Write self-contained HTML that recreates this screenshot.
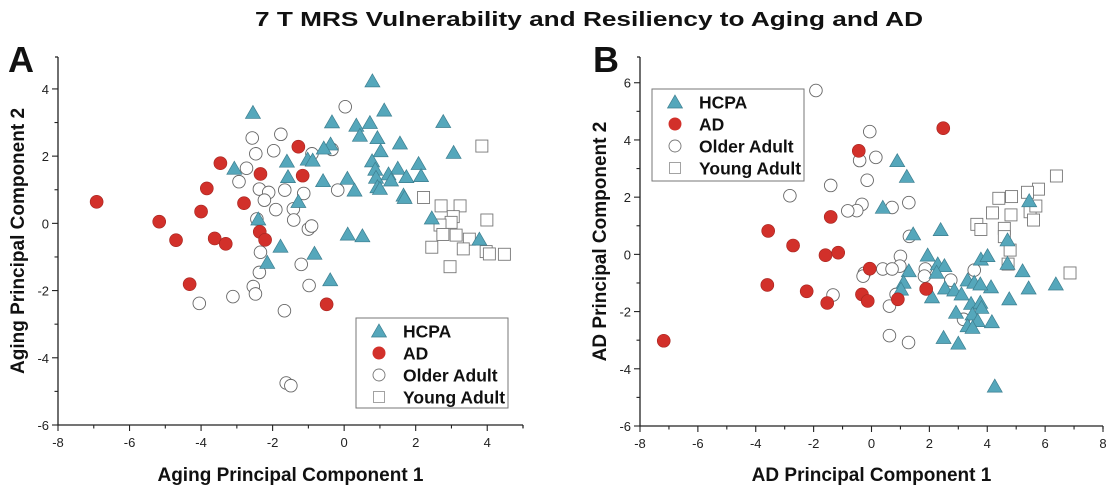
<!DOCTYPE html>
<html><head><meta charset="utf-8">
<style>
html,body{margin:0;padding:0;background:#fff;}
svg{display:block;font-family:"Liberation Sans",sans-serif;}
.t{font-size:13px;fill:#222;}
.b{font-weight:bold;fill:#111;}
</style></head>
<body>
<svg id="c" width="1107" height="489" viewBox="0 0 1107 489">
<text x="255" y="26" textLength="668" lengthAdjust="spacingAndGlyphs" class="b" font-size="20">7 T MRS Vulnerability and Resiliency to Aging and AD</text>
<text x="8" y="72" class="b" font-size="36">A</text>
<text x="593" y="72" class="b" font-size="36">B</text>
</svg>
<script>
// Panel A data
const aHcpaX=[0.79,-2.55,1.12,-0.34,0.34,0.72,2.77,0.44,0.93,1.56,-0.38,-0.57,1.02,3.06,-1.6,-1.02,-0.88,0.78,2.08,-3.07,0.87,1.5,-1.57,1.24,0.89,1.74,2.15,0.09,-0.59,1.31,0.93,0.29,1.0,1.66,1.69,-1.28,-2.4,2.45,0.1,0.51,3.78,-1.78,-0.83,-2.15,-0.39];
const aHcpaY=[4.21,3.27,3.34,2.99,2.89,2.97,3.0,2.59,2.52,2.36,2.33,2.21,2.13,2.08,1.82,1.88,1.85,1.83,1.75,1.61,1.58,1.61,1.36,1.44,1.34,1.36,1.39,1.31,1.24,1.26,1.06,0.96,1.01,0.81,0.74,0.62,0.1,0.13,-0.35,-0.4,-0.5,-0.71,-0.92,-1.19,-1.71];
const aAdX=[-6.92,-5.17,-4.7,-4.32,-4.0,-3.84,-3.62,-3.31,-3.46,-2.8,-2.34,-1.28,-1.16,-2.36,-2.21,-0.49];
const aAdY=[0.64,0.05,-0.5,-1.81,0.35,1.04,-0.45,-0.61,1.79,0.6,1.47,2.28,1.42,-0.25,-0.49,-2.41];
const aOldX=[0.03,-2.57,-1.77,-2.47,-1.97,-0.9,-0.34,-2.73,-2.94,-2.37,-2.11,-2.23,-1.66,-1.13,-0.18,-1.91,-1.42,-1.41,-2.44,-1.0,-0.91,-2.34,-2.37,-1.2,-2.54,-2.48,-3.11,-4.05,-1.67,-0.98,-1.62,-1.49];
const aOldY=[3.47,2.54,2.65,2.07,2.16,2.07,2.2,1.64,1.24,1.02,0.92,0.69,0.99,0.89,0.99,0.41,0.43,0.1,0.13,-0.17,-0.08,-0.86,-1.46,-1.22,-1.88,-2.1,-2.18,-2.38,-2.6,-1.85,-4.75,-4.83];
const aYoungX=[3.85,2.22,2.71,3.24,3.05,2.99,2.68,3.99,2.76,3.13,3.5,2.45,3.33,3.97,4.06,4.48,2.96];
const aYoungY=[2.3,0.77,0.52,0.52,0.2,0.03,-0.05,0.1,-0.33,-0.35,-0.47,-0.71,-0.76,-0.84,-0.91,-0.92,-1.29];
const aXTicks=[-8,-6,-4,-2,0,2,4];
const aYTicks=[-6,-4,-2,0,2,4];
// Panel B data
const bHcpaX=[0.89,1.22,0.39,5.45,1.44,2.39,1.94,2.29,2.52,1.29,2.25,1.11,1.02,3.78,4.01,5.22,6.37,5.43,4.13,4.76,3.32,3.55,3.76,2.54,2.86,3.11,2.09,3.44,3.76,3.8,3.49,2.92,3.67,3.32,3.49,4.16,2.49,3.0,4.26,4.7,4.7];
const bHcpaY=[3.24,2.69,1.61,1.84,0.68,0.83,-0.06,-0.37,-0.43,-0.61,-0.66,-1.01,-1.25,-0.2,-0.08,-0.61,-1.07,-1.21,-1.17,-1.59,-0.93,-1.01,-1.07,-1.21,-1.28,-1.42,-1.52,-1.75,-1.71,-1.89,-2.12,-2.06,-2.35,-2.53,-2.59,-2.39,-2.94,-3.14,-4.64,0.47,-0.35];
const bAdX=[-7.18,-3.57,-3.6,-2.71,-2.24,-1.59,-1.15,-1.41,-1.53,-0.44,-0.33,-0.13,-0.06,0.91,1.89,2.48];
const bAdY=[-3.02,0.82,-1.07,0.31,-1.29,-0.03,0.06,1.31,-1.7,3.62,-1.4,-1.63,-0.5,-1.57,-1.21,4.41];
const bOldX=[-1.92,-0.06,0.15,-0.41,-0.15,-1.41,-2.82,-0.33,-0.51,-0.82,0.71,1.29,1.31,1.0,0.98,0.39,0.71,-0.25,-0.29,1.86,1.83,2.74,3.55,-1.33,0.85,0.62,3.18,0.62,1.28];
const bOldY=[5.73,4.29,3.39,3.28,2.59,2.41,2.05,1.75,1.53,1.52,1.64,1.81,0.63,-0.07,-0.41,-0.51,-0.51,-0.66,-0.76,-0.51,-0.76,-0.9,-0.55,-1.42,-1.4,-1.81,-2.27,-2.84,-3.08];
const bYoungX=[6.39,5.77,5.39,4.84,4.4,4.18,4.82,5.48,5.68,5.6,3.64,3.78,4.59,4.59,4.79,4.72,6.86];
const bYoungY=[2.74,2.28,2.17,2.02,1.96,1.45,1.38,1.49,1.69,1.2,1.05,0.87,0.91,0.62,0.15,-0.34,-0.65];
const bXTicks=[-8,-6,-4,-2,0,2,4,6,8];
const bYTicks=[-6,-4,-2,0,2,4,6];

const NS="http://www.w3.org/2000/svg";
const svg=document.getElementById('c');
function mk(tag,attrs,parent){const e=document.createElementNS(NS,tag);for(const k in attrs)e.setAttribute(k,attrs[k]);(parent||svg).appendChild(e);return e;}
const TRI='#55a7bb',RED='#d2302a';

function panel(p){
  const g=mk('g',{});
  
  
  const sx=v=>p.x0+(v-p.xmin)/(p.xmax-p.xmin)*(p.x1-p.x0);
  const sy=v=>p.y0-(v-p.ymin)/(p.ymax-p.ymin)*(p.y0-p.y1);
  const ax=mk('path',{d:`M${p.x0},${p.y1} V${p.y0} H${p.x1}`,stroke:'#222','stroke-width':1.3,fill:'none'},g);
  
  
  mk('path',{d:`M${p.x0},${p.y1} h-3 M${p.x1},${p.y0} v3`,stroke:'#222','stroke-width':1.2},g);
  for(let v=p.xmin;v<=p.xmax+1e-9;v+=1){
    const major=Math.abs(v%2)<1e-9;
    mk('line',{x1:sx(v),x2:sx(v),y1:p.y0,y2:p.y0+(major?6:3.5),stroke:'#222','stroke-width':1.1},g);
  }
  for(let v=p.ymin;v<=p.ymax+1e-9;v+=1){
    const major=Math.abs(v%2)<1e-9;
    mk('line',{x1:p.x0,x2:p.x0-(major?6:3.5),y1:sy(v),y2:sy(v),stroke:'#222','stroke-width':1.1},g);
  }
  p.xt.forEach(v=>{const t=mk('text',{x:sx(v),y:p.y0+22,'text-anchor':'middle',class:'t'},g);t.textContent=v;
    
    });
  p.yt.forEach(v=>{const t=mk('text',{x:p.x0-9,y:sy(v)+5,'text-anchor':'end',class:'t'},g);t.textContent=v;
    
    });
  const xt=mk('text',{x:(p.x0+p.x1)/2,y:481,'text-anchor':'middle',class:'b','font-size':19},g);xt.textContent=p.xlab;
  
  
  const yc=(p.y0+p.y1)/2;
  const yt=mk('text',{x:p.ylx,y:yc,'text-anchor':'middle',class:'b','font-size':19,transform:`rotate(-90 ${p.ylx} ${yc})`},g);yt.textContent=p.ylab;
  
  
  const clip='clip'+p.name;
  const cp=mk('clipPath',{id:clip},g);mk('rect',{x:p.x0,y:p.y1,width:p.x1-p.x0,height:p.y0-p.y1},cp);
  const pts=mk('g',{'clip-path':`url(#${clip})`},g);
  function tri(cx,cy,parent){return mk('path',{d:`M${cx},${cy-8} L${cx+7.5},${cy+5} L${cx-7.5},${cy+5}Z`,fill:TRI,stroke:'#3d7f90','stroke-width':0.7},parent);}
  p.old[0].forEach((v,i)=>{const e=mk('circle',{cx:sx(v),cy:sy(p.old[1][i]),r:6.3,fill:'#fff',stroke:'#666','stroke-width':0.9},pts);
    
    });
  p.young[0].forEach((v,i)=>{const e=mk('rect',{x:sx(v)-6,y:sy(p.young[1][i])-6,width:12,height:12,fill:'#fff',stroke:'#777','stroke-width':0.9},pts);
    
    });
  p.hcpa[0].forEach((v,i)=>{const e=tri(sx(v),sy(p.hcpa[1][i]),pts);
    
    });
  p.ad[0].forEach((v,i)=>{const e=mk('circle',{cx:sx(v),cy:sy(p.ad[1][i]),r:6.5,fill:RED,stroke:'#a52520','stroke-width':0.6},pts);
    
    });
  // legend
  const L=p.leg;
  const lg=mk('g',{},g);
  
  
  mk('rect',{x:L.x,y:L.y,width:L.w,height:L.h,fill:'#fff',stroke:'#777','stroke-width':1},lg);
  const names=['HCPA','AD','Older Adult','Young Adult'];
  names.forEach((n,i)=>{
    const cy=L.y+13+i*22, mx=L.x+23;
    let m;
    if(i===0)m=tri(mx,cy+1,lg);
    else if(i===1)m=mk('circle',{cx:mx,cy:cy,r:6.5,fill:RED},lg);
    else if(i===2)m=mk('circle',{cx:mx,cy:cy,r:6,fill:'#fff',stroke:'#777','stroke-width':0.9},lg);
    else m=mk('rect',{x:mx-5.5,y:cy-5.5,width:11,height:11,fill:'#fff',stroke:'#999','stroke-width':0.9},lg);
    const t=mk('text',{x:L.x+47,y:cy+6.5,class:'b','font-size':17.5},lg);t.textContent=n;
    
    
  });
}
panel({name:'panel-a',x0:58,x1:523,y0:425,y1:57,xmin:-8,xmax:5,ymin:-6,ymax:4.95,xt:aXTicks,yt:aYTicks,
  hcpa:[aHcpaX,aHcpaY],ad:[aAdX,aAdY],old:[aOldX,aOldY],young:[aYoungX,aYoungY],
  xlab:'Aging Principal Component 1',ylab:'Aging Principal Component 2',ylx:24,leg:{x:356,y:318,w:152,h:90}});
panel({name:'panel-b',x0:640,x1:1103,y0:426,y1:57,xmin:-8,xmax:8,ymin:-6,ymax:6.9,xt:bXTicks,yt:bYTicks,
  hcpa:[bHcpaX,bHcpaY],ad:[bAdX,bAdY],old:[bOldX,bOldY],young:[bYoungX,bYoungY],
  xlab:'AD Principal Component 1',ylab:'AD Principal Component 2',ylx:606,leg:{x:652,y:89,w:152,h:92}});
</script>
</body></html>
